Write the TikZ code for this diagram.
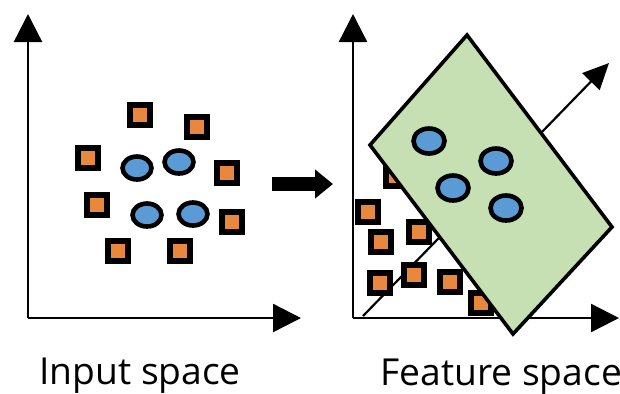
\documentclass[tikz,border=0pt]{standalone}
\usepackage{fontspec}
\setmainfont{Open Sans}
\usetikzlibrary{arrows.meta,shapes.geometric}
\definecolor{sqorange}{HTML}{E8883F}
\definecolor{dotblue}{HTML}{5B9BD5}
\definecolor{boxgreen}{HTML}{C6E0B4}
\tikzset{
  axis/.style={line width=1.2pt,-{Triangle[length=14pt,width=14pt]}},
  sq/.style={rectangle,draw=black,fill=sqorange,line width=2.8pt,minimum size=9.8pt,inner sep=0pt},
  dot/.style={ellipse,draw=black,fill=dotblue,line width=2.3pt,minimum width=14.5pt,minimum height=11.5pt,inner sep=0pt},
  lbl/.style={font=\fontsize{18.6}{20}\selectfont,inner sep=0pt}
}
\begin{document}
\begin{tikzpicture}[x=0.5pt,y=-0.5pt]
\useasboundingbox (0,0) rectangle (620,393);
\fill[white] (0,0) rectangle (620,393);

% ---- input space ----
\coordinate (o1) at (28,318);
\coordinate (y1) at (28,14);
\coordinate (x1) at (301,318);
\draw[axis] (o1) -- (y1);
\draw[axis] (o1) -- (x1);

\node[sq] (a1) at (140,115) {};
\node[sq] (a2) at (197,127) {};
\node[sq] (a3) at (88,158) {};
\node[sq] (a4) at (227,173) {};
\node[sq] (a5) at (97,205) {};
\node[sq] (a6) at (232,222) {};
\node[sq] (a7) at (118,251) {};
\node[sq] (a8) at (180,251) {};

\node[dot] (b1) at (137,168) {};
\node[dot] (b2) at (179,162) {};
\node[dot] (b3) at (147,215) {};
\node[dot] (b4) at (193,214) {};

\node[lbl,anchor=base west] (t1) at (39,384) {Input space};

% ---- mapping arrow ----
\coordinate (m1) at (272,184);
\coordinate (m2) at (333,184);
\draw[line width=7pt,-{Triangle[length=9pt,width=14pt]}] (m1) -- (m2);

% ---- feature space ----
\coordinate (o2) at (353,318);
\coordinate (y2) at (353,14);
\coordinate (x2) at (619,318);
\coordinate (d1) at (363,316);
\coordinate (d2) at (609,63);
\draw[axis] (o2) -- (y2);
\draw[axis] (o2) -- (x2);
\draw[line width=1.1pt,-{Triangle[length=13pt,width=12pt]}] (d1) -- (d2);

\node[sq] (c1) at (396,176) {};
\node[sq] (c2) at (368,212) {};
\node[sq] (c3) at (381,242) {};
\node[sq] (c4) at (419,232) {};
\node[sq] (c5) at (380,283) {};
\node[sq] (c6) at (414,275) {};
\node[sq] (c7) at (450,282) {};
\node[sq] (c8) at (481,303) {};

\coordinate (r1) at (467,35);
\coordinate (r2) at (612,227);
\coordinate (r3) at (513,334);
\coordinate (r4) at (370,145);
\draw[line width=1.8pt,fill=boxgreen,line join=miter] (r1) -- (r2) -- (r3) -- (r4) -- cycle;

\node[dot,minimum width=15.5pt,minimum height=12.5pt] (e1) at (429,141) {};
\node[dot,minimum width=15.5pt,minimum height=12.5pt] (e2) at (496,161) {};
\node[dot,minimum width=15.5pt,minimum height=12.5pt] (e3) at (453,188) {};
\node[dot,minimum width=15.5pt,minimum height=12.5pt] (e4) at (506,208) {};

\node[lbl,anchor=base west] (t2) at (380,385) {Feature space};
\end{tikzpicture}
\end{document}
